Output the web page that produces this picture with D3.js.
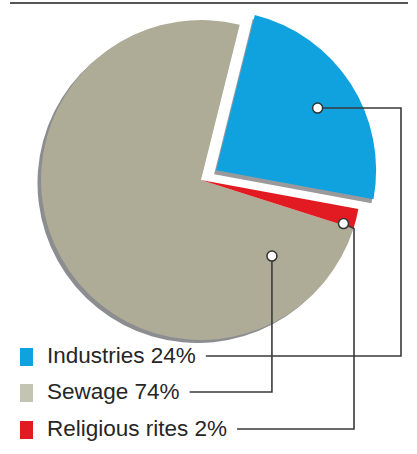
<!DOCTYPE html>
<html><head><meta charset="utf-8">
<script src="https://cdn.jsdelivr.net/npm/d3@7"></script>
<style>html,body{margin:0;padding:0;background:#fff;}svg{display:block;}</style>
</head><body>
<script>
// data
const categories = ["Industries", "Religious rites", "Sewage"];
const values = [24, 2, 74];
const legendOrder = ["Industries", "Sewage", "Religious rites"];
const legendLabels = ["Industries 24%", "Sewage 74%", "Religious rites 2%"];

const W = 417, H = 454;
const colors = {"Industries": "#10a1df", "Religious rites": "#e21b22", "Sewage": "#aeac96"};
const legendColors = {"Industries": "#10a1df", "Religious rites": "#e21b22", "Sewage": "#c4c4b3"};

const svg = d3.select("body").append("svg").attr("width", W).attr("height", H);

// top rule (title band cropped)
svg.append("line").attr("x1", 10).attr("x2", 408).attr("y1", 3).attr("y2", 3)
  .attr("stroke", "#555").attr("stroke-width", 2);

const cx = 201, cy = 180, R = 160;
const deg = Math.PI / 180;
const pie = d3.pie().sort(null).value(d => d).startAngle(14 * deg).endAngle(374 * deg);
const arcs = pie(values);
const arc = d3.arc().innerRadius(0).outerRadius(R);
const explode = {"Industries": 18, "Religious rites": 0, "Sewage": 0};

function offset(a, name) {
  const m = (a.startAngle + a.endAngle) / 2, e = explode[name];
  return [Math.sin(m) * e, -Math.cos(m) * e];
}

const g = svg.append("g").attr("transform", `translate(${cx},${cy})`);

// shadows
arcs.forEach((a, i) => {
  const name = categories[i];
  const [ox, oy] = offset(a, name);
  if (name === "Sewage") {
    g.append("path").attr("d", arc(a)).attr("fill", "#8c8d90")
      .attr("transform", `translate(${ox - 3.5},${oy + 3})`);
  }
  if (name === "Industries") {
    g.append("path").attr("d", arc(a)).attr("fill", "#9a9a9c")
      .attr("transform", `translate(${ox - 2},${oy + 4})`);
  }
});
// slices
const sliceOrder = ["Sewage", "Religious rites", "Industries"];
sliceOrder.forEach(name => {
  const i = categories.indexOf(name), a = arcs[i];
  const [ox, oy] = offset(a, name);
  g.append("path").attr("d", arc(a)).attr("fill", colors[name])
    .attr("transform", `translate(${ox},${oy})`);
});

// leader anchors: angle (deg) and radius within each slice
const anchorAngle = {"Industries": 58.5, "Religious rites": 107, "Sewage": 137};
const anchorRadius = {"Industries": 119, "Religious rites": 149, "Sewage": 104};

function anchor(name) {
  const i = categories.indexOf(name), a = arcs[i];
  const [ox, oy] = offset(a, name);
  const t = anchorAngle[name] * deg, r = anchorRadius[name];
  return [cx + ox + Math.sin(t) * r, cy + oy - Math.cos(t) * r];
}

// legend
const legY = [356, 392, 429];
const leg = svg.append("g");
const textEnds = {};
legendOrder.forEach((name, k) => {
  leg.append("rect").attr("x", 20).attr("y", legY[k] - 8).attr("width", 13).attr("height", 18)
    .attr("fill", legendColors[name]);
  const t = leg.append("text").attr("x", 47).attr("y", legY[k] + 6.5)
    .attr("font-family", "Liberation Sans, Arial, sans-serif").attr("font-size", 22.5)
    .attr("fill", "#262626").text(legendLabels[k]);
  textEnds[name] = t.node().getBBox().x + t.node().getBBox().width;
});

// leader lines
const vx = {"Industries": 401, "Sewage": null, "Religious rites": 354};
legendOrder.forEach((name, k) => {
  const [px, py] = anchor(name);
  const y = legY[k];
  const x0 = textEnds[name] + 10;
  let pts;
  if (name === "Industries") pts = [[px, py], [vx[name], py], [vx[name], y], [x0, y]];
  else if (name === "Sewage") pts = [[px, py], [px, y], [x0, y]];
  else pts = [[px, py], [vx[name], py + 5], [vx[name], y], [x0, y]];
  svg.append("path").attr("d", d3.line()(pts)).attr("fill", "none")
    .attr("stroke", "#3a3a3a").attr("stroke-width", 1.6);
});
legendOrder.forEach(name => {
  const [px, py] = anchor(name);
  svg.append("circle").attr("cx", px).attr("cy", py).attr("r", 5)
    .attr("fill", "#fff").attr("stroke", "#333").attr("stroke-width", 1.5);
});
</script>
</body></html>
